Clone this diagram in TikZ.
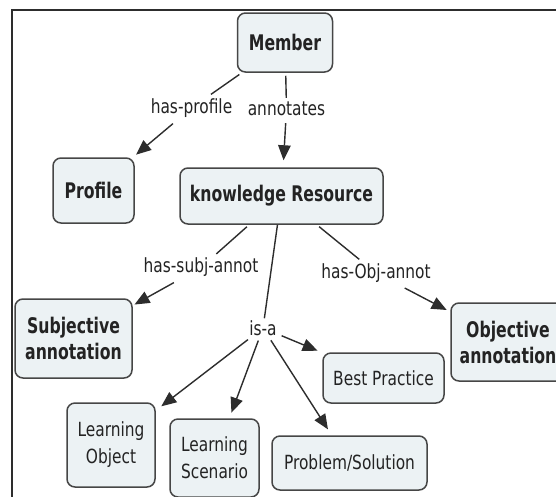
\documentclass[tikz,border=0pt]{standalone}
\usepackage{fontspec}
\usetikzlibrary{arrows.meta}
\newfontfamily\rfont{DejaVu Sans}[FakeStretch=0.79]
\newfontfamily\bfont{DejaVu Sans}[FakeStretch=0.73]
\definecolor{boxfill}{RGB}{236,242,244}
\definecolor{bordercol}{RGB}{70,70,70}
\definecolor{linecol}{RGB}{45,45,45}
\definecolor{textcol}{RGB}{35,35,35}
\tikzset{
  concept/.style={draw=bordercol, line width=1.5pt, fill=boxfill, rounded corners=8pt,
    align=center, inner sep=0pt, text=textcol},
  bconcept/.style={concept, font=\bfont\bfseries\fontsize{21.5}{26}\selectfont},
  rconcept/.style={concept, font=\rfont\fontsize{19.5}{27}\selectfont},
  lbl/.style={font=\rfont\fontsize{19.5}{21}\selectfont, inner sep=4pt, text=textcol},
  link/.style={draw=linecol, line width=1.4pt, shorten <=3pt},
  arr/.style={link, -{Triangle[length=15pt,width=12.5pt]}},
}
\begin{document}
\begin{tikzpicture}[x=1pt,y=-1pt]
\useasboundingbox (0,0) rectangle (556,496);
\fill[white] (0,0) rectangle (556,496);
\draw[linecol, line width=1.5pt] (12,497) -- (12,10) -- (557,10);

% concepts
\node[bconcept, minimum width=95pt, minimum height=59pt] (M) at (285,42.5) {Member};
\node[bconcept, minimum width=81pt, minimum height=65pt] (P) at (93.5,190.5) {Profile};
\node[bconcept, minimum width=203pt, minimum height=56pt] (K) at (281.5,196) {knowledge Resource};
\node[bconcept, minimum width=117pt, minimum height=79pt] (S) at (73.5,338.5) {Subjective\\annotation};
\node[bconcept, minimum width=114pt, minimum height=78pt] (O) at (508,342) {Objective\\annotation};
\node[rconcept, minimum width=121pt, minimum height=50pt] (B) at (383.5,378) {Best Practice};
\node[rconcept, minimum width=88pt, minimum height=84pt] (LO) at (111,445) {Learning\\Object};
\node[rconcept, minimum width=89pt, minimum height=78pt] (LS) at (214.5,458) {Learning\\Scenario};
\node[rconcept, minimum width=155pt, minimum height=54pt] (PS) at (349.5,463) {Problem/Solution};

% link labels
\node[lbl] (hp) at (191.5,108) {has-profile};
\node[lbl] (an) at (286.5,109) {annotates};
\node[lbl] (hs) at (201,267.5) {has-subj-annot};
\node[lbl] (ho) at (376,273) {has-Obj-annot};
\node[lbl, inner sep=2pt] (isa) at (263,328) {is-a};

% connectors
\draw[link] (M) -- (hp);
\draw[arr, shorten >=4pt] (hp) -- (P);
\draw[link] (M) -- (an);
\draw[arr, shorten >=7pt] (an) -- (K);
\draw[link] (K) -- (hs);
\draw[arr, shorten >=2pt] (hs) -- (S);
\draw[link] (K) -- (ho);
\draw[arr, shorten >=4pt] (ho) -- (O);
\draw[link, shorten <=0pt] (K) -- (isa);
\draw[arr, shorten >=5pt] (isa) -- (B);
\draw[arr, shorten >=7pt] (isa) -- (LO);
\draw[arr, shorten >=6pt] (isa) -- (LS);
\draw[arr, shorten >=7pt] (isa) -- (PS);
\end{tikzpicture}
\end{document}
